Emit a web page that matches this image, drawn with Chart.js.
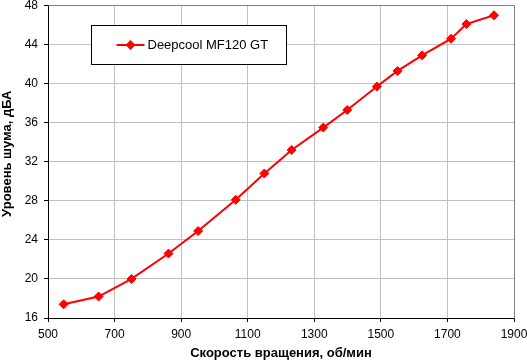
<!DOCTYPE html>
<html><head><meta charset="utf-8">
<script src="https://cdn.jsdelivr.net/npm/chart.js@4/dist/chart.umd.min.js"></script>
<style>html,body{margin:0;padding:0;background:#fff}#wrap{width:527px;height:363px}</style>
</head><body><div id="wrap"><canvas id="c" width="527" height="363"></canvas></div>
<script>
const seriesLabel = 'Deepcool MF120 GT';
const rpm   = [547, 652, 751, 862, 951, 1064, 1150, 1232, 1327, 1399, 1488, 1550, 1624, 1711, 1757, 1840];
const noise = [17.4, 18.2, 20.0, 22.6, 24.9, 28.1, 30.8, 33.2, 35.5, 37.3, 39.7, 41.3, 42.9, 44.6, 46.1, 47.0];
const xTickValues = [500, 700, 900, 1100, 1300, 1500, 1700, 1900];
const yTickValues = [16, 20, 24, 28, 32, 36, 40, 44, 48];
const xTitle = 'Скорость вращения, об/мин';
const yTitle = 'Уровень шума, дБА';

const FONT = '"Liberation Sans", Arial, sans-serif';
Chart.defaults.font.family = FONT;
Chart.defaults.color = '#000';

function align(p){ return Math.round(p - 0.5) + 0.5; }

const frame = {
  id: 'frame',
  beforeDatasetsDraw(chart){
    const a = chart.chartArea, ctx = chart.ctx;
    ctx.save();
    ctx.strokeStyle = '#808080'; ctx.lineWidth = 1;
    ctx.beginPath();
    ctx.moveTo(align(a.left), align(a.top));
    ctx.lineTo(align(a.right), align(a.top));
    ctx.lineTo(align(a.right), align(a.bottom));
    ctx.stroke();
    ctx.restore();
  }
};

const yTitlePlugin = {
  id: 'yTitlePlugin',
  afterDraw(chart){
    const a = chart.chartArea, ctx = chart.ctx;
    ctx.save();
    ctx.translate(7, (a.top + a.bottom) / 2 - 8);
    ctx.rotate(-Math.PI / 2);
    ctx.font = 'bold 13px ' + FONT;
    ctx.fillStyle = '#000';
    ctx.textAlign = 'center'; ctx.textBaseline = 'middle';
    ctx.fillText(yTitle, 0, 0);
    ctx.restore();
  }
};

const boxLegend = {
  id: 'boxLegend',
  afterDraw(chart){
    const a = chart.chartArea, ctx = chart.ctx;
    const ds = chart.data.datasets[0];
    const x0 = align(a.left + 43), y0 = align(a.top + 20), w = 195, h = 39;
    ctx.save();
    ctx.fillStyle = '#fff'; ctx.fillRect(x0, y0, w, h);
    ctx.strokeStyle = '#000'; ctx.lineWidth = 1; ctx.strokeRect(x0, y0, w, h);
    const cy = y0 + h/2;
    ctx.strokeStyle = ds.borderColor; ctx.lineWidth = 2;
    ctx.beginPath(); ctx.moveTo(x0 + 25, cy); ctx.lineTo(x0 + 53, cy); ctx.stroke();
    const cx = x0 + 39, r = 5;
    ctx.fillStyle = ds.pointBackgroundColor;
    ctx.beginPath(); ctx.moveTo(cx, cy - r); ctx.lineTo(cx + r, cy); ctx.lineTo(cx, cy + r); ctx.lineTo(cx - r, cy); ctx.closePath(); ctx.fill();
    ctx.fillStyle = '#000'; ctx.font = '13px ' + FONT; ctx.textBaseline = 'middle'; ctx.textAlign = 'left';
    ctx.fillText(ds.label, x0 + 56, cy + 0.5);
    ctx.restore();
  }
};

new Chart(document.getElementById('c'), {
  type: 'scatter',
  data: {
    datasets: [{
      label: seriesLabel,
      data: rpm.map((x, i) => ({x, y: noise[i]})),
      showLine: true,
      borderColor: '#ff0000',
      backgroundColor: '#ff0000',
      pointBackgroundColor: '#ff0000',
      pointBorderColor: '#ff0000',
      borderWidth: 2,
      pointStyle: 'rectRot',
      pointRadius: 4.5,
      pointBorderWidth: 1,
      tension: 0
    }]
  },
  options: {
    responsive: false,
    devicePixelRatio: 1,
    animation: false,
    events: [],
    layout: { padding: { left: 0, top: 5, right: 13, bottom: 0 } },
    plugins: { legend: { display: false }, tooltip: { enabled: false } },
    scales: {
      x: {
        type: 'linear', min: 500, max: 1900,
        afterBuildTicks: s => { s.ticks = xTickValues.map(v => ({value: v})); },
        afterFit: s => { s.height = 45; s.paddingLeft = 0; s.paddingRight = 0; },
        ticks: { font: { size: 12 }, color: '#000', padding: 5, maxRotation: 0, autoSkip: false, callback: v => String(v) },
        grid: { color: '#c0c0c0', tickColor: '#000', tickLength: 4, lineWidth: 1 },
        border: { color: '#000', width: 1 },
        title: { display: true, text: xTitle, font: { size: 13, weight: 'bold' }, color: '#000', padding: { top: 0, bottom: 2 } }
      },
      y: {
        type: 'linear', min: 16, max: 48,
        afterBuildTicks: s => { s.ticks = yTickValues.map(v => ({value: v})); },
        afterFit: s => { s.width = 48; s.paddingTop = 0; s.paddingBottom = 0; },
        ticks: { font: { size: 12 }, color: '#000', padding: 6, autoSkip: false, callback: v => String(v) },
        grid: { color: '#c0c0c0', tickColor: '#000', tickLength: 4, lineWidth: 1 },
        border: { color: '#000', width: 1 },
        title: { display: false }
      }
    }
  },
  plugins: [frame, yTitlePlugin, boxLegend]
});
</script></body></html>
